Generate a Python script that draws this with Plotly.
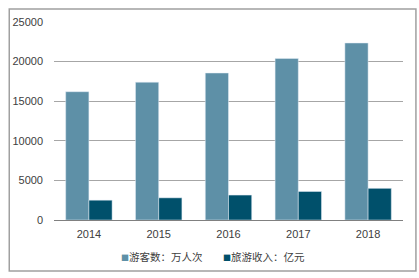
import plotly.graph_objects as go

years = ["2014", "2015", "2016", "2017", "2018"]
visitors = [16200, 17400, 18560, 20400, 22350]
revenue = [2500, 2800, 3150, 3600, 4000]
series_names = ["游客数：万人次", "旅游收入：亿元"]
y_ticks = [0, 5000, 10000, 15000, 20000, 25000]
y_labels = ["0", "5000", "10000", "15000", "20000", "25000"]
colors = ["#5e90a7", "#00506b"]

W, H = 419, 278
L, R, T, B = 52, 16, 22, 58
pw, ph = W - L - R, H - T - B

def px_x(x):
    return (x - L) / pw

def px_y(y):
    return (H - B - y) / ph

fig = go.Figure()
fig.add_trace(go.Bar(x=years, y=visitors, name=series_names[0], marker_color=colors[0]))
fig.add_trace(go.Bar(x=years, y=revenue, name=series_names[1], marker_color=colors[1]))

legend_x = [117, 220]
annotations = []
for name, c, lx in zip(series_names, colors, legend_x):
    annotations.append(dict(
        xref="paper", yref="paper", x=px_x(lx), y=px_y(256), xanchor="left", yanchor="middle",
        showarrow=False,
        text=f"<span style='color:{c};font-size:8px'>■</span>{name}",
        font=dict(family="Noto Sans CJK SC, Liberation Sans", size=10.5, color="#404040"),
    ))

fig.update_layout(
    width=W, height=H,
    margin=dict(l=L, r=R, t=T, b=B),
    paper_bgcolor="white", plot_bgcolor="white",
    barmode="group", bargap=0.335, bargroupgap=0,
    font=dict(family="Liberation Sans, Arial, Noto Sans CJK SC", size=11, color="#404040"),
    showlegend=False,
    annotations=annotations,
    xaxis=dict(showgrid=False, showline=True, linecolor="#808080", linewidth=1,
               ticks="", tickfont=dict(size=11), ticklabelstandoff=4),
    yaxis=dict(range=[0, 25000], tickvals=y_ticks, ticktext=y_labels, showgrid=True,
               gridcolor="#a6a6a6", gridwidth=1, zeroline=False, showline=False, ticks="",
               tickfont=dict(size=11), ticklabelstandoff=10),
    shapes=[dict(type="rect", xref="paper", yref="paper",
                 x0=px_x(7), x1=px_x(416), y0=px_y(271), y1=px_y(9),
                 line=dict(color="#a0a0a0", width=1.5), fillcolor="rgba(0,0,0,0)", layer="below")],
)

fig.write_html("out.html")
